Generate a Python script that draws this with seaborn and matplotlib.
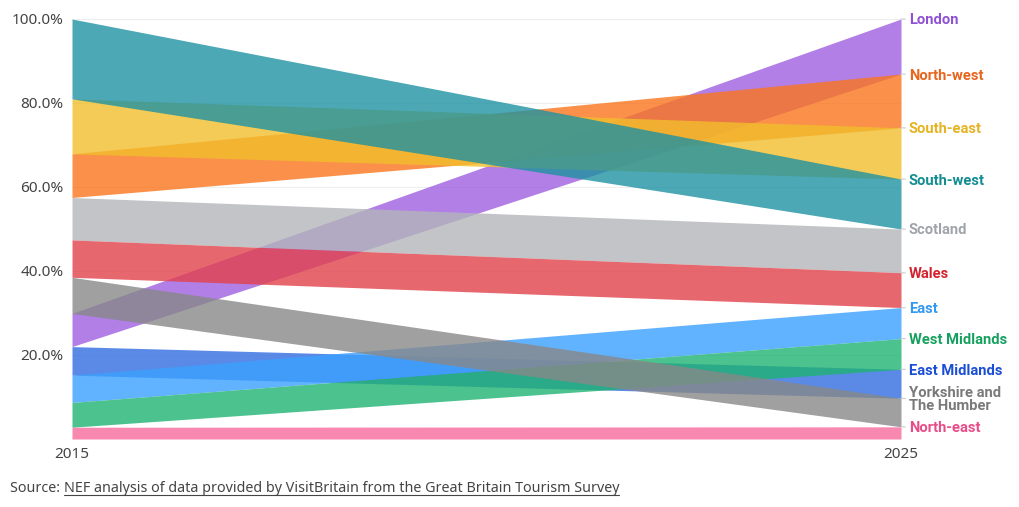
import numpy as np
import pandas as pd
import matplotlib
matplotlib.use("Agg")
import matplotlib.pyplot as plt
from matplotlib.lines import Line2D
import seaborn as sns

sns.set_theme(style="white")
plt.rcParams['font.family'] = ['Noto Sans', 'DejaVu Sans']

# Share of domestic tourism nights by region (%)
regions = ["London", "North-west", "South-east", "South-west", "Scotland", "Wales",
           "East Midlands", "East", "West Midlands", "Yorkshire and\nThe Humber", "North-east"]
share_2015 = [7.9, 10.4, 13.1, 19.0, 10.1, 8.9, 6.8, 6.5, 5.9, 8.6, 2.8]
share_2025 = [13.1, 12.8, 12.2, 11.9, 10.4, 8.3, 6.9, 7.4, 7.3, 6.8, 2.9]
years = [2015, 2025]

fill_colors = ["#9f5fe0", "#f9751d", "#f2be2d", "#1e92a1", "#b3b6ba", "#e2414b",
               "#316de0", "#3ba0ff", "#1fb372", "#888888", "#f86a9c"]
label_colors = ["#8f52d4", "#e8651d", "#e6b422", "#138d90", "#a0a4a8", "#d4222f",
                "#1a4ed6", "#3399f0", "#16a060", "#7a7a7a", "#e84d8a"]


def stack_bounds(shares):
    # largest share at the top, stacked down to 0
    s = pd.Series(shares)
    order = s.sort_values(ascending=False, kind="stable").index
    top = pd.Series(100 - s[order].cumsum().shift(fill_value=0).values, index=order)
    return top.sort_index(), (top - s[order]).sort_index()


top15, bot15 = stack_bounds(share_2015)
top25, bot25 = stack_bounds(share_2025)

fig = plt.figure(figsize=(10.2, 5.07), dpi=100)
ax = fig.add_axes([72 / 1020, 1 - 439 / 507, (901 - 72) / 1020, 420 / 507])

for i, name in enumerate(regions):
    ax.fill_between(years, [bot15[i], bot25[i]], [top15[i], top25[i]],
                    color=fill_colors[i], alpha=0.8, linewidth=0)
    ax.annotate(name, xy=(2025, top25[i]), xytext=(5.5, 0), textcoords="offset points",
                ha="left", va="center_baseline", fontsize=10.6, fontweight="bold",
                family=["Roboto", "DejaVu Sans"],
                color=label_colors[i], linespacing=0.92, annotation_clip=False,
                arrowprops=dict(arrowstyle="-", color="#cccccc", lw=0.8,
                                shrinkA=0, shrinkB=0))

ax.set_xlim(2015, 2025)
ax.set_ylim(0, 100)
ax.set_xticks(years)
ax.set_xticklabels(["2015", "2025"])
ax.set_yticks([20, 40, 60, 80, 100])
ax.set_yticklabels([f"{v:.1f}%" for v in [20, 40, 60, 80, 100]])
ax.yaxis.grid(True, color="#eeeeee", linewidth=0.8)
ax.set_axisbelow(True)
ax.tick_params(axis="y", length=4, color="#dddddd", pad=2, labelsize=11, labelcolor="#444444")
ax.tick_params(axis="x", length=0, pad=6, labelsize=11, labelcolor="#444444")
sns.despine(ax=ax, left=True, bottom=True)

# source line with underlined link text
src = fig.text(10 / 1020, 1 - 488 / 507, "Source: ", fontsize=10.3, color="#444444", va="center")
fig.canvas.draw()
r = fig.canvas.get_renderer()
bb = src.get_window_extent(r)
link = fig.text(bb.x1 / 1020, 1 - 488 / 507, "NEF analysis of data provided by VisitBritain from the Great Britain Tourism Survey",
                fontsize=10.3, color="#444444", va="center")
lb = link.get_window_extent(r)
fig.add_artist(Line2D([lb.x0 / 1020, lb.x1 / 1020], [(lb.y0 + 1) / 507] * 2,
                      color="#444444", lw=0.8, transform=fig.transFigure))

fig.savefig("out.png", dpi=100)
